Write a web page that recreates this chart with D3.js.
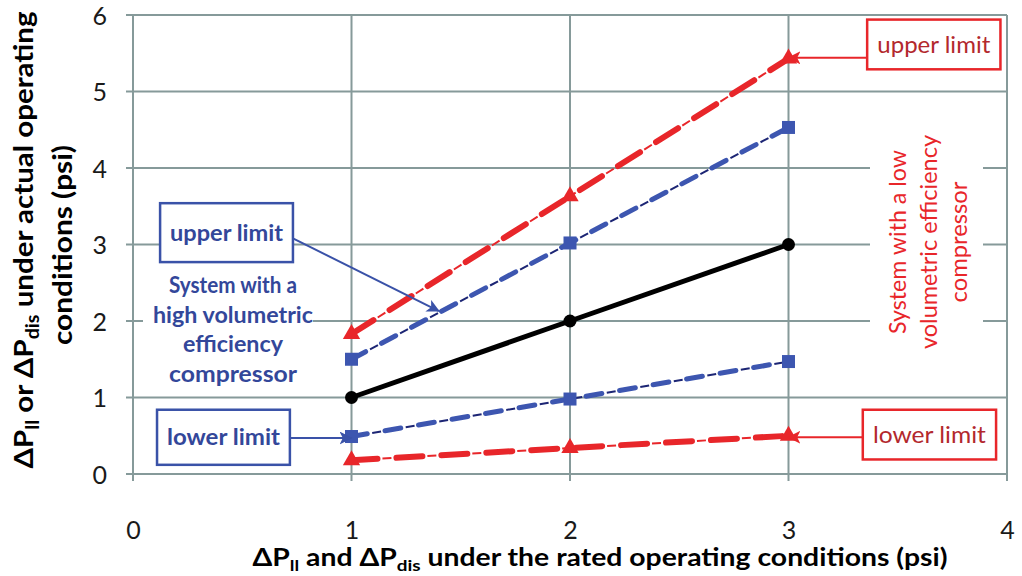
<!DOCTYPE html>
<html><head><meta charset="utf-8">
<script src="https://cdn.jsdelivr.net/npm/d3@7"></script>
<style>body{margin:0;background:#fff}svg{display:block}</style>
</head><body>
<svg id="c" width="1022" height="576"></svg>
<script>
const xTicks = [0,1,2,3,4];
const yTicks = [0,1,2,3,4,5,6];
const xVals = [1,2,3];
const rated = [1,2,3];
const highUpper = [1.50,3.02,4.53];
const highLower = [0.49,0.98,1.47];
const lowUpper = [1.83,3.63,5.43];
const lowLower = [0.18,0.34,0.50];

const svg = d3.select('#c');
const x = d3.scaleLinear().domain([0,4]).range([133,1007]);
const y = d3.scaleLinear().domain([0,6]).range([474,15]);
const grid = '#869a9a';
const font = 'Lato, "Open Sans", sans-serif';

// grid
svg.append('g').selectAll('line').data(yTicks).join('line')
  .attr('x1',x(0)-7).attr('x2',x(4)).attr('y1',d=>y(d)).attr('y2',d=>y(d))
  .attr('stroke',grid).attr('stroke-width',2);
svg.append('g').selectAll('line').data(xTicks).join('line')
  .attr('x1',d=>x(d)).attr('x2',d=>x(d)).attr('y1',y(6)).attr('y2',y(0)+7)
  .attr('stroke',grid).attr('stroke-width',2);

// axes labels
const xa = d3.axisBottom(x).tickValues(xTicks).tickSize(0).tickPadding(47).tickFormat(d3.format('d'));
svg.append('g').attr('transform',`translate(0,${y(0)})`).call(xa)
  .call(g=>g.select('.domain').remove())
  .selectAll('text').attr('font-family',font).attr('font-size',25).attr('fill','#1a1a1a');
const ya = d3.axisLeft(y).tickValues(yTicks).tickSize(0).tickPadding(26).tickFormat(d3.format('d'));
svg.append('g').attr('transform',`translate(${x(0)},0)`).call(ya)
  .call(g=>g.select('.domain').remove())
  .selectAll('text').attr('font-family',font).attr('font-size',25).attr('fill','#1a1a1a').attr('dy','0.36em');

// white backgrounds for text blocks
svg.append('rect').attr('x',143).attr('y',268).attr('width',170).attr('height',122).attr('fill','#fff');
svg.append('rect').attr('x',870).attr('y',130).attr('width',113).attr('height',218).attr('fill','#fff');

// arrow markers
const defs = svg.append('defs');
function mk(id,color){
  defs.append('marker').attr('id',id).attr('viewBox','0 0 12 12').attr('refX',11).attr('refY',6)
    .attr('markerWidth',13).attr('markerHeight',13).attr('markerUnits','userSpaceOnUse').attr('orient','auto')
    .append('path').attr('d','M0,0 L12,6 L0,12 L3,6 Z').attr('fill',color);
}
mk('ab','#3a52a8'); mk('ar','#e8262a');

// series drawing
const line = d3.line().x(d=>x(d[0])).y(d=>y(d[1]));
function dashed(vals,thickColor,thinColor,w,pat){
  const pts = xVals.map((v,i)=>[v,vals[i]]);
  svg.append('path').attr('d',line(pts)).attr('fill','none').attr('stroke',thinColor)
    .attr('stroke-width',2).attr('stroke-dasharray',pat.thin);
  svg.append('path').attr('d',line(pts)).attr('fill','none').attr('stroke',thickColor)
    .attr('stroke-width',w).attr('stroke-linecap','round').attr('stroke-dasharray',pat.thick);
}
const redPat = {thick:'26,19', thin:'0,31,9,5'};
const bluePat = {thick:'16,18', thin:'0,21,9,4'};
dashed(lowUpper,'#e8262a','#e8262a',6,redPat);
dashed(lowLower,'#e8262a','#e8262a',6,redPat);
dashed(highUpper,'#3d56b0','#1c2574',5,bluePat);
dashed(highLower,'#3d56b0','#1c2574',5,bluePat);
svg.append('path').attr('d',line(xVals.map((v,i)=>[v,rated[i]]))).attr('fill','none')
  .attr('stroke','#000').attr('stroke-width',5);

// markers
svg.append('g').selectAll('circle').data(xVals).join('circle')
  .attr('cx',d=>x(d)).attr('cy',(d,i)=>y(rated[i])).attr('r',6.5).attr('fill','#000');
[highUpper,highLower].forEach(vals=>{
  svg.append('g').selectAll('rect').data(xVals).join('rect')
    .attr('x',d=>x(d)-6.5).attr('y',(d,i)=>y(vals[i])-6.5).attr('width',13).attr('height',13).attr('fill','#3d56b0');
});
const tri = d3.symbol().type(d3.symbolTriangle).size(130);
[lowUpper,lowLower].forEach(vals=>{
  svg.append('g').selectAll('path').data(xVals).join('path')
    .attr('d',tri).attr('transform',(d,i)=>`translate(${x(d)},${y(vals[i])})`).attr('fill','#e8262a');
});

// annotation boxes (data coords)
function box(x0,x1,y0,y1,label,stroke,tcol,bold){
  svg.append('rect').attr('x',x(x0)).attr('y',y(y1)).attr('width',x(x1)-x(x0)).attr('height',y(y0)-y(y1))
    .attr('fill','#fff').attr('stroke',stroke).attr('stroke-width',2.5);
  svg.append('text').attr('x',(x(x0)+x(x1))/2).attr('y',(y(y0)+y(y1))/2).attr('dy','0.35em')
    .attr('text-anchor','middle').attr('font-family',font).attr('font-size',23).attr('font-weight',bold?700:400)
    .attr('fill',tcol).attr('textLength',113).attr('lengthAdjust','spacingAndGlyphs').text(label);
}
function arrow(x0,y0,x1,y1,color,id){
  svg.append('line').attr('x1',x(x0)).attr('y1',y(y0)).attr('x2',x(x1)).attr('y2',y(y1))
    .attr('stroke',color).attr('stroke-width',2).attr('marker-end',`url(#${id})`);
}
arrow(0.732,3.08,1.40,2.13,'#3a52a8','ab');
arrow(0.72,0.47,1.0,0.47,'#3a52a8','ab');
arrow(3.36,5.44,3.0,5.44,'#e8262a','ar');
arrow(3.34,0.48,3.0,0.48,'#e8262a','ar');
box(0.124,0.732,2.77,3.54,'upper limit','#3a52a8','#33479a',true);
box(0.110,0.718,0.12,0.84,'lower limit','#3a52a8','#33479a',true);
box(3.36,3.97,5.29,5.94,'upper limit','#e8262a','#b3282d',false);
box(3.34,3.95,0.19,0.84,'lower limit','#e8262a','#b3282d',false);

// blue block text
const blueLines = ['System with a','high volumetric','efficiency','compressor'];
const blueLen = [128,160,100,128];
svg.append('g').selectAll('text').data(blueLines).join('text')
  .attr('x',233).attr('y',(d,i)=>293+i*29.5).attr('text-anchor','middle')
  .attr('font-family',font).attr('font-size',22).attr('font-weight',700).attr('fill','#33479a')
  .attr('textLength',(d,i)=>blueLen[i]).attr('lengthAdjust','spacingAndGlyphs').text(d=>d);
// red rotated text
const redLines = ['System with a low','volumetric efficiency','compressor'];
const redLen = [184,214,121];
svg.append('g').attr('transform','translate(930,242) rotate(-90)')
  .selectAll('text').data(redLines).join('text')
  .attr('x',0).attr('y',(d,i)=>-24+i*30.5).attr('text-anchor','middle')
  .attr('font-family',font).attr('font-size',23).attr('fill','#e8262a')
  .attr('textLength',(d,i)=>redLen[i]).attr('lengthAdjust','spacingAndGlyphs').text(d=>d);

// axis titles
const xt = svg.append('text').attr('x',600).attr('y',566).attr('text-anchor','middle')
  .attr('font-family',font).attr('font-size',24).attr('font-weight',700).attr('fill','#000')
  .attr('textLength',695).attr('lengthAdjust','spacingAndGlyphs');
xt.append('tspan').text('ΔP');
xt.append('tspan').attr('font-size',16).attr('dy',5).text('ll');
xt.append('tspan').attr('dy',-5).text(' and ΔP');
xt.append('tspan').attr('font-size',16).attr('dy',5).text('dis');
xt.append('tspan').attr('dy',-5).text(' under the rated operating conditions  (psi)');

const yt = svg.append('text').attr('text-anchor','middle').attr('transform','translate(33,240) rotate(-90)')
  .attr('font-family',font).attr('font-size',27).attr('font-weight',700).attr('fill','#000')
  .attr('textLength',457).attr('lengthAdjust','spacingAndGlyphs');
yt.append('tspan').text('ΔP');
yt.append('tspan').attr('font-size',18).attr('dy',6).text('ll');
yt.append('tspan').attr('dy',-6).text(' or ΔP');
yt.append('tspan').attr('font-size',18).attr('dy',6).text('dis');
yt.append('tspan').attr('dy',-6).text(' under actual operating');
svg.append('text').attr('text-anchor','middle').attr('transform','translate(72,245) rotate(-90)')
  .attr('font-family',font).attr('font-size',27).attr('font-weight',700).attr('fill','#000')
  .attr('textLength',200).attr('lengthAdjust','spacingAndGlyphs')
  .text('conditions (psi)');
</script>
</body></html>
